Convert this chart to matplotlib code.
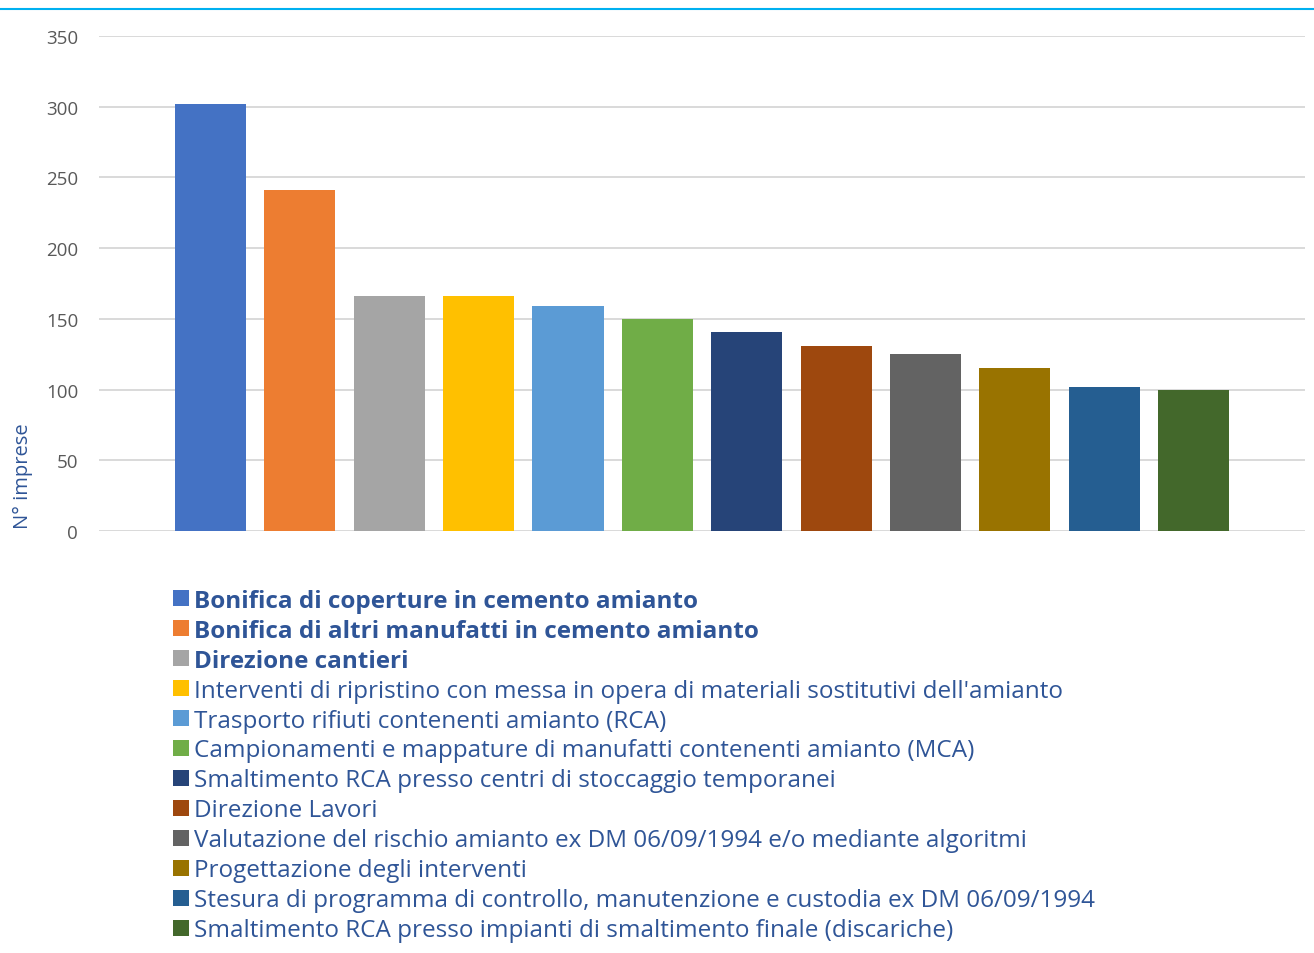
import matplotlib.pyplot as plt
from matplotlib.lines import Line2D

plt.rcParams['font.family'] = ['Open Sans', 'DejaVu Sans']

# Numero di imprese per attività
attivita = [
    "Bonifica di coperture in cemento amianto",
    "Bonifica di altri manufatti in cemento amianto",
    "Direzione cantieri",
    "Interventi di ripristino con messa in opera di materiali sostitutivi dell'amianto",
    "Trasporto rifiuti contenenti amianto (RCA)",
    "Campionamenti e mappature di manufatti contenenti amianto (MCA)",
    "Smaltimento RCA presso centri di stoccaggio temporanei",
    "Direzione Lavori",
    "Valutazione del rischio amianto ex DM 06/09/1994 e/o mediante algoritmi",
    "Progettazione degli interventi",
    "Stesura di programma di controllo, manutenzione e custodia ex DM 06/09/1994",
    "Smaltimento RCA presso impianti di smaltimento finale (discariche)",
]
n_imprese = [302, 241, 166, 166, 159, 150, 141, 131, 125, 115, 102, 100]
colori = ["#4472C4", "#ED7D31", "#A5A5A5", "#FFC000", "#5B9BD5", "#70AD47",
          "#264478", "#9E480E", "#636363", "#997300", "#255E91", "#43682B"]
in_grassetto = [True, True, True] + [False] * 9

blu_testo = "#2F5597"

fig = plt.figure(figsize=(13.14, 9.54), dpi=100)
ax = fig.add_axes([0.0753, 0.4423, 0.9179, 0.5189])

bars = []
for i, (lab, val, col) in enumerate(zip(attivita, n_imprese, colori)):
    b = ax.bar(i, val, width=0.795, color=col, label=lab, zorder=3)
    bars.append(b)

ax.set_xlim(-1.25, 12.25)
ax.set_ylim(0, 350)
ax.set_yticks(range(0, 351, 50))
ax.set_xticks([])
ax.grid(axis='y', color="#D9D9D9", linewidth=1.4, zorder=0)
for s in ax.spines.values():
    s.set_visible(False)
ax.tick_params(axis='y', length=0, pad=15, labelsize=13.5, labelcolor="#595959")
ax.set_ylabel("N° imprese", color=blu_testo, fontsize=14.5)
ax.yaxis.set_label_coords(-0.055, 0.113)

# linea azzurra in alto
fig.add_artist(Line2D([0, 1], [1 - 10 / 954, 1 - 10 / 954], color="#00B0F0",
                      linewidth=1.5, transform=fig.transFigure))

leg = fig.legend(handles=bars, labels=attivita, loc='upper left',
                 bbox_to_anchor=(163 / 1314, 1 - 580 / 954), frameon=False,
                 fontsize=17.5, handlelength=0.65, handleheight=0.65,
                 handletextpad=0.22, labelspacing=0.245, borderaxespad=0)
for txt, bold in zip(leg.get_texts(), in_grassetto):
    txt.set_color(blu_testo)
    if bold:
        txt.set_fontweight('bold')

fig.savefig("out.png", dpi=100)
